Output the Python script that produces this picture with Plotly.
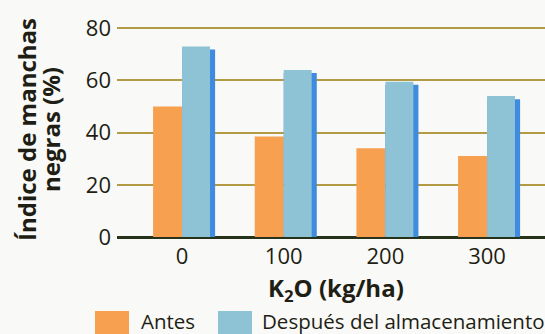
import plotly.graph_objects as go

# K2O dose (kg/ha) and black-spot index (%) before / after storage
k2o_doses = [0, 100, 200, 300]
tick_labels = ["0", "100", "200", "300"]
antes = [50, 38.5, 34, 31]
despues = [73, 64, 59.5, 54]
y_ticks = [0, 20, 40, 60, 80]

ORANGE = "#F7A04F"
LIGHT_BLUE = "#8EC3D6"
EDGE_BLUE = "#3E8BE0"
GRID = "#B39A45"
BG = "#F9F9F7"
FONT = "Open Sans"
TEXT = "#1E1E14"

W, H = 545, 334
L, R, T, B = 117, 0, 23, 97
PLOT_H = H - T - B
PLOT_W = W - L - R

BAR_A = 28.5      # width of "Antes" bars (x units)
BAR_D = 27.5      # width of "Después" bars
EDGE_W = 32.5     # width of the darker side strip behind "Después"
EDGE_DROP = 1.2   # the strip starts slightly below the bar top


def px_x(px):
    return (px - L) / PLOT_W


def px_y(py):
    return (H - B - py) / PLOT_H


fig = go.Figure()

fig.add_trace(go.Bar(
    x=k2o_doses, y=antes, name="Antes",
    offset=-BAR_A, width=BAR_A,
    marker=dict(color=ORANGE, line=dict(width=0)),
))
fig.add_trace(go.Bar(
    x=k2o_doses, y=[v - EDGE_DROP for v in despues], name="edge",
    offset=0, width=EDGE_W, showlegend=False,
    marker=dict(color=EDGE_BLUE, line=dict(width=0)),
))
fig.add_trace(go.Bar(
    x=k2o_doses, y=despues, name="Después del almacenamiento",
    offset=0, width=BAR_D,
    marker=dict(color=LIGHT_BLUE, line=dict(width=0)),
))

fig.update_layout(
    width=W, height=H,
    margin=dict(l=L, r=R, t=T, b=B, pad=0),
    paper_bgcolor=BG, plot_bgcolor=BG,
    barmode="overlay",
    showlegend=False,
    font=dict(family=FONT, color=TEXT),
)

fig.update_xaxes(
    range=[-64, 357],
    tickmode="array", tickvals=k2o_doses, ticktext=tick_labels,
    tickfont=dict(size=22, family=FONT, color=TEXT),
    showgrid=False, zeroline=False, showline=False, ticks="",
    ticklabelstandoff=4,
)
fig.update_yaxes(
    range=[0, 82],
    tickmode="array", tickvals=y_ticks,
    tickfont=dict(size=22, family=FONT, color=TEXT),
    showgrid=True, gridcolor=GRID, gridwidth=2,
    zeroline=True, zerolinecolor="#26331A", zerolinewidth=3,
    showline=False, ticks="",
    ticklabelstandoff=5,
)

# two-line y-axis title, bold and rotated
fig.add_annotation(
    text="<b>Índice de manchas</b>", textangle=-90,
    x=px_x(26), y=px_y(130), xref="paper", yref="paper",
    xanchor="center", yanchor="middle", showarrow=False,
    font=dict(size=24, family=FONT, color=TEXT),
)
fig.add_annotation(
    text="<b>negras (%)</b>", textangle=-90,
    x=px_x(50), y=px_y(130), xref="paper", yref="paper",
    xanchor="center", yanchor="middle", showarrow=False,
    font=dict(size=24, family=FONT, color=TEXT),
)

# x-axis title
fig.add_annotation(
    text="<b>K<sub>2</sub>O (kg/ha)</b>",
    x=px_x(336), y=px_y(289), xref="paper", yref="paper",
    xanchor="center", yanchor="middle", showarrow=False,
    font=dict(size=24, family=FONT, color=TEXT),
)

# legend drawn below the axis title
legend_items = [("Antes", ORANGE, 95, 129, 139), ("Después del almacenamiento", LIGHT_BLUE, 218, 252, 260)]
for label, color, x0, x1, tx in legend_items:
    fig.add_shape(
        type="rect", xref="paper", yref="paper",
        x0=px_x(x0), x1=px_x(x1), y0=px_y(311), y1=px_y(338),
        fillcolor=color, line=dict(width=0), layer="above",
    )
    fig.add_annotation(
        text=label, x=px_x(tx), y=px_y(320.5), xref="paper", yref="paper",
        xanchor="left", yanchor="middle", showarrow=False,
        font=dict(size=20.5, family=FONT, color=TEXT),
    )

fig.write_html("out.html")
